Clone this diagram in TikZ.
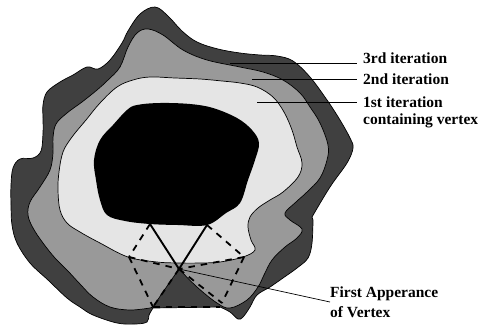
\documentclass[tikz,border=0pt]{standalone}
\usepackage{fontspec}
\setmainfont{Liberation Serif}
\tikzset{
  region/.style={draw=black, line width=0.7pt},
  tag/.style={font=\fontsize{15.5}{16}\selectfont\bfseries, inner ysep=0pt, inner xsep=6pt, anchor=west},
  leader/.style={draw=black, line width=0.7pt},
  edgeline/.style={draw=black, line width=1.9pt},
  dashline/.style={draw=black, line width=1.8pt, dash pattern=on 6.5pt off 6pt}
}
\begin{document}
\begin{tikzpicture}[x=1pt,y=-1pt]
\useasboundingbox (0,0) rectangle (480,325);

\draw[region, fill=black!75]
  plot[smooth, tension=0.6] coordinates {(153,308) (149,315) (147,322) (135,324) (117,323) (93,315) (80,307) (67,298) (48,280) (30,263) (17,243) (12,225) (11,205) (11,185) (13,168) (20,159) (33,158) (41,151) (43,133) (43,118) (43,105) (47,92) (60,82) (73,75) (87,67) (98,69) (110,60) (122,43) (128,31) (140,14) (155,7) (168,16) (182,31) (197,42) (218,49) (240,53) (260,55) (277,56) (293,61) (310,77) (327,100) (340,120) (350,138) (353,148) (347,163) (330,187) (312,217)}
  -- plot[smooth, tension=0.6] coordinates {(313,220) (312,243) (308,258) (297,268) (283,278) (270,287) (257,295) (250,307) (243,317) (238,319) (230,312) (220,307)}
  -- cycle;

\draw[region, fill=black!40]
  plot[smooth, tension=0.6] coordinates {(179,269) (197,287) (217,303) (230,308) (247,300) (258,287) (264,275) (272,260) (285,247) (297,238) (302,229) (290,220) (285,213) (296,202) (307,192) (320,178) (327,160) (328,145) (320,123) (310,107) (300,93) (283,80) (263,72) (240,67) (207,60) (183,50) (163,35) (148,29) (137,33) (128,47) (120,67) (108,80) (97,90) (82,102) (67,113) (56,124) (53,138) (53,153) (50,170) (40,187) (30,202) (28,215) (33,228) (43,243) (55,258) (67,270) (80,284) (93,297) (110,307) (130,310) (150,308)}
  -- plot[smooth, tension=0.6] coordinates {(153,307) (163,292) (179,269)}
  -- cycle;

\draw[region, fill=black!10]
  plot[smooth cycle, tension=0.6] coordinates {(133,80) (150,77) (175,78) (200,79) (222,81) (240,83) (257,87) (273,97) (284,112) (292,130) (297,147) (302,163) (298,177) (283,192) (270,200) (258,208) (250,217) (248,227) (251,240) (255,250) (243,257) (220,262) (200,263) (180,263) (157,262) (128,257) (100,243) (80,232) (67,223) (60,210) (58,190) (59,172) (63,152) (72,137) (86,120) (100,103) (117,87)};

\fill[black]
  plot[smooth cycle, tension=0.6] coordinates {(160,103) (137,105) (127,110) (113,125) (100,140) (94,160) (96,180) (100,200) (107,215) (125,221) (150,224) (178,225) (207,225) (226,213) (240,203) (248,180) (255,160) (259,143) (252,130) (237,118) (213,108) (190,104)};

\coordinate (apex) at (179,269);
\coordinate (lefttop) at (150,224);
\coordinate (righttop) at (207,225);
\coordinate (leftmid) at (129,257);
\coordinate (rightmid) at (244,257);
\coordinate (leftlow) at (153,307);
\coordinate (rightlow) at (222,303);
\coordinate (botright) at (220,307);

\draw[edgeline] (lefttop) -- (apex);
\draw[edgeline] (righttop) -- (apex);
\draw[dashline] (lefttop) -- (leftmid);
\draw[dashline] (righttop) -- (rightmid);
\draw[dashline] (leftmid) -- (apex);
\draw[dashline] (rightmid) -- (apex);
\draw[dashline] (leftmid) -- (leftlow);
\draw[dashline] (rightmid) -- (rightlow);
\draw[dashline] (apex) -- (leftlow);
\draw[dashline] (apex) -- (rightlow);
\draw[dashline] (leftlow) -- (botright);

\node[tag, anchor=base west] (third) at (357,63) {3rd iteration};
\node[tag] (second) at (357,79) {2nd iteration};
\node[tag] (first) at (357,102) {1st iteration};
\node[tag, anchor=base west] (firstb) at (357,124) {containing vertex};
\node[tag, align=left, inner xsep=0pt, font=\fontsize{15.5}{20}\selectfont\bfseries] (vertex) at (330,302) {First Apperance\\of Vertex};

\coordinate (thirdtip) at (230,63);
\coordinate (secondtip) at (252,79);
\coordinate (firsttip) at (257,102);

\draw[leader] (thirdtip) -- (third.base west);
\draw[leader] (secondtip) -- (second.west);
\draw[leader] (firsttip) -- (first.west);
\draw[leader] (apex) -- (vertex.west);
\end{tikzpicture}
\end{document}
